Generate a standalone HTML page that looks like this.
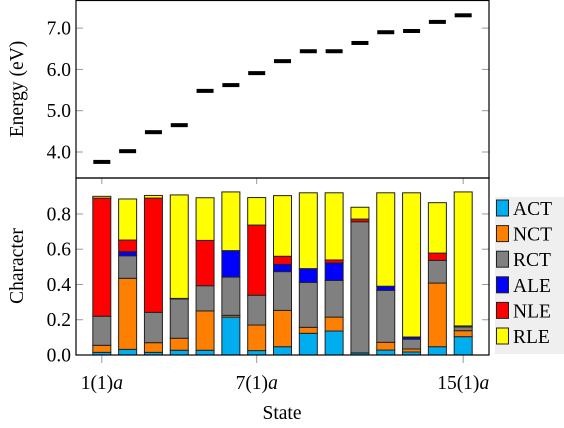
<!DOCTYPE html>
<html><head><meta charset="utf-8"><style>
body{margin:0;background:#fff;}
svg{display:block;}
text{font-family:"Liberation Serif","DejaVu Serif",serif;}
</style></head><body>
<svg id="c" width="564" height="428" font-family="Liberation Serif, serif"></svg>
<script>
const states=["1(1)a","2(1)a","3(1)a","4(1)a","5(1)a","6(1)a","7(1)a","8(1)a","9(1)a","10(1)a","11(1)a","12(1)a","13(1)a","14(1)a","15(1)a"];
const energies=[3.76,4.02,4.48,4.65,5.48,5.62,5.91,6.2,6.44,6.44,6.64,6.9,6.93,7.15,7.31];
const seriesNames=["ACT","NCT","RCT","ALE","NLE","RLE"];
const seriesColors=["#00aeef","#ff8000","#808080","#0000ff","#ff0000","#ffff00"];
const ACT=[0.015,0.032,0.015,0.027,0.027,0.215,0.025,0.047,0.123,0.136,0.011,0.028,0.017,0.047,0.104];
const NCT=[0.04,0.403,0.055,0.068,0.223,0.01,0.145,0.206,0.034,0.079,0.001,0.044,0.017,0.361,0.034];
const RCT=[0.165,0.128,0.172,0.223,0.143,0.217,0.169,0.22,0.255,0.208,0.744,0.295,0.056,0.129,0.021];
const ALE=[0,0.023,0,0,0,0.15,0,0.041,0.078,0.099,0,0.023,0.012,0,0];
const NLE=[0.67,0.066,0.648,0.003,0.257,0,0.398,0.046,0,0.017,0.015,0,0,0.041,0.006];
const RLE=[0.01,0.233,0.015,0.587,0.242,0.333,0.156,0.344,0.43,0.381,0.067,0.53,0.818,0.286,0.76];
const yTicksE=[4,5,6,7];
const yTicksC=[0,0.2,0.4,0.6,0.8];
const xTickIdx=[1,7,15];

const NS="http://www.w3.org/2000/svg";
const svg=document.getElementById('c');
const FF='Liberation Serif, serif';
function el(t,a,p){const e=document.createElementNS(NS,t);for(const k in a)e.setAttribute(k,a[k]);if(t==='text')e.setAttribute('font-family',FF);(p||svg).appendChild(e);return e;}
const L=76,R=489,T1=0,B1=178,T2=178,B2=355;
const xs=i=>L+(R-L)*i/16;
const yE=v=>152-(v-4)*41.3;
const yC=v=>B2-v*176.3;

const g1=el('g',{});


yTicksE.forEach(v=>{
  el('line',{x1:L,x2:L+7,y1:yE(v),y2:yE(v),stroke:'#999','stroke-width':1},g1);
  el('line',{x1:R-7,x2:R,y1:yE(v),y2:yE(v),stroke:'#999','stroke-width':1},g1);
  const t=el('text',{x:L-5,y:yE(v)+6.5,'text-anchor':'end','font-size':19.5},g1);
  t.textContent=v.toFixed(1);
  
  
});
energies.forEach((e,i)=>{
  const r=el('rect',{x:xs(i+1)-8.5,y:yE(e)-2,width:17,height:4,fill:'#000'},g1);
  
  
});
el('rect',{x:L,y:T1+0.5,width:R-L,height:B1-T1-0.5,fill:'none',stroke:'#000','stroke-width':1.2},g1);
const ty=el('text',{x:0,y:0,'text-anchor':'middle','font-size':19.5,transform:'translate(23,89) rotate(-90)'});
ty.textContent='Energy (eV)';



const g2=el('g',{});


yTicksC.forEach(v=>{
  el('line',{x1:L,x2:L+7,y1:yC(v),y2:yC(v),stroke:'#999','stroke-width':1},g2);
  el('line',{x1:R-7,x2:R,y1:yC(v),y2:yC(v),stroke:'#999','stroke-width':1},g2);
  const t=el('text',{x:L-5,y:yC(v)+6.5,'text-anchor':'end','font-size':19.5},g2);
  t.textContent=v.toFixed(1);
  
  
});
const series=[ACT,NCT,RCT,ALE,NLE,RLE];
states.forEach((s,i)=>{
  let acc=0;
  series.forEach((arr,k)=>{
    const v=arr[i];
    if(v<=0)return;
    const r=el('rect',{x:xs(i+1)-9,y:yC(acc+v),width:18,height:yC(acc)-yC(acc+v),fill:seriesColors[k],stroke:'#222','stroke-width':1},g2);
    
    
    acc+=v;
  });
});
xTickIdx.forEach(i=>{
  el('line',{x1:xs(i),x2:xs(i),y1:B2,y2:B2+8,stroke:'#999','stroke-width':1},g2);
  el('line',{x1:xs(i),x2:xs(i),y1:T2,y2:T2+6,stroke:'#999','stroke-width':1},g2);
  const t=el('text',{x:xs(i),y:389,'text-anchor':'middle','font-size':19.5},g2);
  t.innerHTML=states[i-1].replace(/a$/,'')+'<tspan font-style="italic">a</tspan>';
  
  
});
el('rect',{x:L,y:T2,width:R-L,height:B2-T2,fill:'none',stroke:'#000','stroke-width':1.2},g2);
const cy=el('text',{x:0,y:0,'text-anchor':'middle','font-size':19.5,transform:'translate(23,266) rotate(-90)'});
cy.textContent='Character';


const sx=el('text',{x:282,y:419,'text-anchor':'middle','font-size':19.5});
sx.textContent='State';



const lg=el('g',{});


el('rect',{x:495,y:197,width:69,height:157,fill:'#efefef'},lg);
seriesNames.forEach((n,k)=>{
  const y=200+k*25.6;
  const e=el('g',{},lg);
  
  
  el('rect',{x:496.5,y:y,width:12,height:16,fill:seriesColors[k],stroke:'#222','stroke-width':1},e);
  const t=el('text',{x:513,y:y+15,'font-size':19.5},e);
  t.textContent=n;
});
</script>
</body></html>
